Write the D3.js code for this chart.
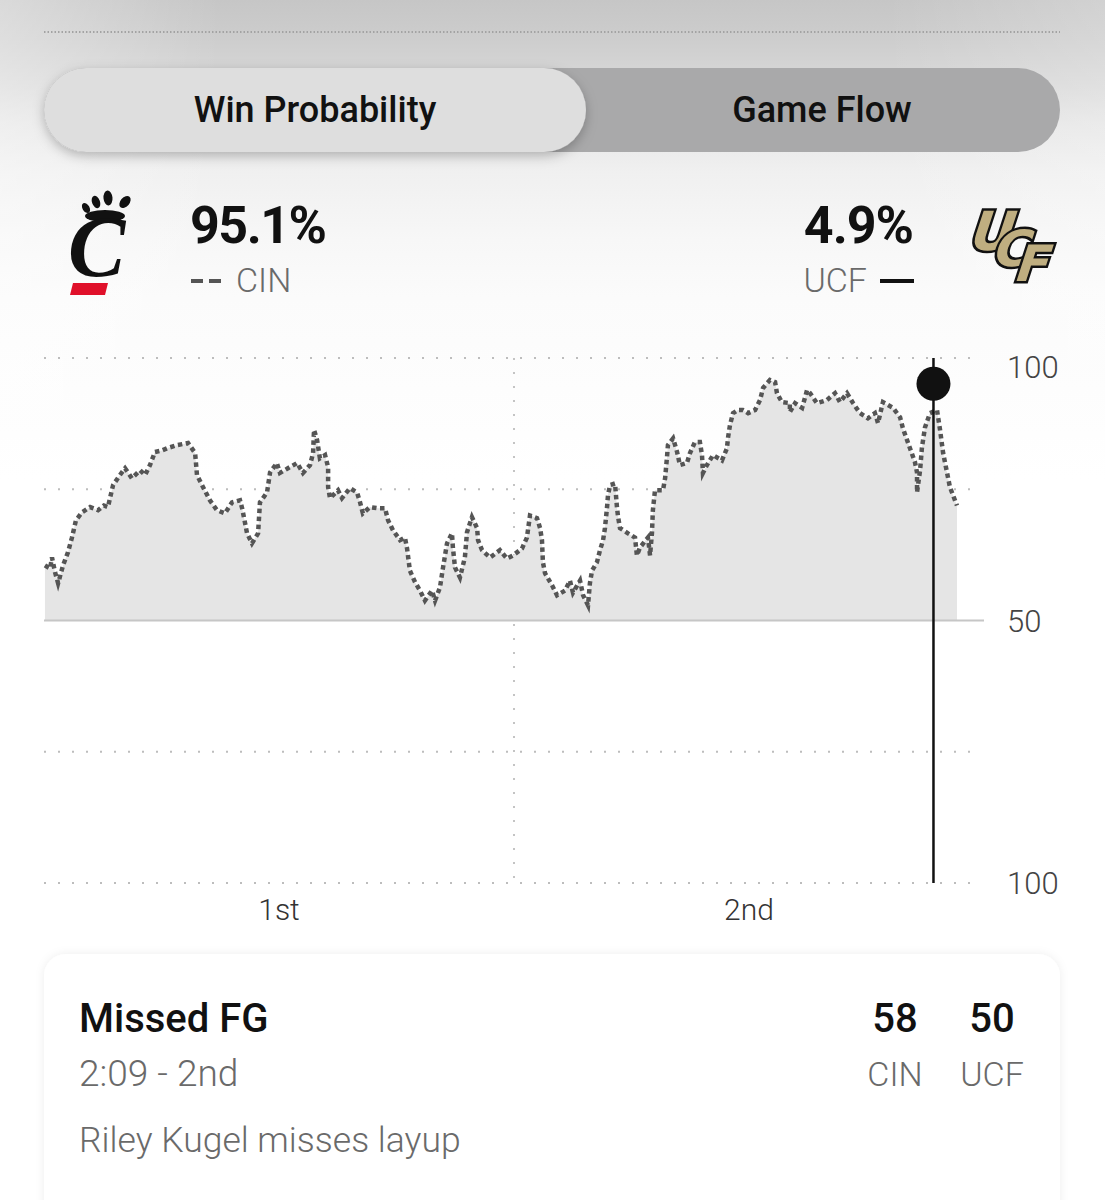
<!DOCTYPE html>
<html>
<head>
<meta charset="utf-8">
<script src="https://cdn.jsdelivr.net/npm/d3@7"></script>
<style>
  html, body { margin: 0; padding: 0; background: #fff; }
  svg { display: block; }
</style>
</head>
<body>
<div id="chart"></div>
<script>
// ---------------- DATA ----------------
const teams = ["CIN", "UCF"];
const winPctNow = [95.1, 4.9];
const tabLabels = ["Win Probability", "Game Flow"];
const periodLabels = ["1st", "2nd"];
const periodMid = [10, 30];            // game minute at centre of each half
const yTickValues = [100, 50, 0];      // CIN win % positions
const yTickLabels = ["100", "50", "100"];
const gridValues = [100, 75, 25, 0];

// game minute elapsed (0-40) and CIN win probability (%)
const gameMinutes = [
  0.04, 0.26, 0.34, 0.47, 0.60, 0.81, 1.02, 1.19, 1.36, 1.62, 1.96, 2.30, 2.55, 2.72, 2.94,
  3.23, 3.45, 3.74, 4.09, 4.30, 4.51, 4.72, 5.02, 5.23, 5.66, 6.13, 6.43, 6.51, 6.77, 7.06,
  7.36, 7.70, 8.00, 8.34, 8.43, 8.55, 8.64, 8.85, 9.11, 9.19, 9.49, 9.62, 9.91, 10.04, 10.38,
  10.77, 11.02, 11.32, 11.45, 11.49, 11.62, 11.74, 11.96, 12.09, 12.09, 12.17, 12.51, 12.68, 13.02, 13.32,
  13.45, 13.57, 13.87, 14.17, 14.51, 14.64, 14.85, 15.15, 15.36, 15.45, 15.57, 15.79, 16.00, 16.21, 16.51,
  16.64, 16.85, 16.98, 17.15, 17.36, 17.40, 17.49, 17.70, 17.91, 18.00, 18.21, 18.43, 18.47, 18.64, 18.98,
  19.40, 19.70, 19.96, 20.34, 20.55, 20.68, 20.98, 21.11, 21.19, 21.23, 21.32, 21.62, 21.83, 22.17, 22.38,
  22.51, 22.81, 22.94, 23.15, 23.23, 23.32, 23.53, 23.66, 23.79, 23.87, 23.96, 24.00, 24.09, 24.30, 24.38,
  24.43, 24.51, 24.85, 25.15, 25.23, 25.36, 25.70, 25.79, 25.87, 25.91, 26.00, 26.34, 26.43, 26.51, 26.55,
  26.77, 26.94, 27.06, 27.36, 27.49, 27.70, 27.91, 28.00, 28.04, 28.21, 28.47, 28.85, 29.06, 29.11, 29.19,
  29.32, 29.53, 29.74, 29.96, 30.26, 30.47, 30.60, 30.89, 31.11, 31.19, 31.40, 31.74, 31.74, 31.96, 32.26,
  32.38, 32.47, 32.60, 32.89, 33.32, 33.66, 33.87, 34.17, 34.43, 34.72, 35.06, 35.36, 35.49, 35.70, 36.13,
  36.43, 36.55, 36.85, 37.06, 37.15, 37.15, 37.28, 37.36, 37.49, 37.70, 38.00, 38.13, 38.26, 38.43, 38.55,
  38.85
];
const cinWinPct = [
  60.5, 59.9, 62.0, 59.2, 57.1, 60.5, 63.0, 65.8, 69.1, 70.6, 71.6, 71.0, 71.9, 71.6, 75.8,
  77.7, 79.0, 77.1, 78.6, 77.7, 79.6, 82.1, 82.4, 82.8, 83.4, 83.8, 81.9, 77.7, 75.4, 72.9,
  71.0, 70.4, 72.5, 72.9, 71.4, 68.7, 66.6, 64.7, 66.6, 72.5, 74.4, 78.2, 80.0, 78.1, 79.0,
  80.0, 78.1, 79.6, 81.9, 86.3, 84.4, 80.9, 81.5, 79.2, 75.4, 73.3, 74.8, 73.3, 75.2, 74.4,
  72.5, 70.4, 71.6, 71.4, 71.4, 69.1, 67.2, 65.3, 65.8, 63.7, 59.5, 57.3, 55.7, 53.8, 55.7,
  53.8, 56.3, 60.1, 64.7, 66.6, 63.9, 60.1, 58.2, 62.0, 66.8, 69.7, 67.6, 65.3, 63.4, 62.0,
  63.4, 61.8, 62.4, 63.7, 65.8, 70.0, 69.5, 67.6, 65.3, 61.1, 59.0, 56.7, 54.8, 55.7, 57.6,
  55.3, 57.6, 54.8, 52.9, 57.1, 59.5, 61.1, 63.4, 65.3, 67.6, 71.6, 73.9, 75.8, 76.1, 71.6,
  69.7, 67.6, 66.6, 65.8, 62.4, 63.9, 65.8, 62.4, 66.6, 71.0, 74.8, 74.8, 77.1, 81.1, 83.4,
  84.7, 82.1, 79.6, 80.0, 81.9, 84.0, 84.0, 81.5, 78.1, 79.6, 81.5, 80.5, 82.8, 84.9, 87.2,
  89.5, 90.1, 90.1, 89.5, 90.1, 92.0, 94.3, 95.8, 95.4, 93.3, 91.6, 91.4, 89.7, 91.4, 90.5,
  92.4, 93.9, 93.3, 91.4, 92.0, 93.3, 91.6, 93.3, 91.4, 89.5, 88.5, 89.5, 87.6, 91.6, 90.5,
  88.7, 86.6, 82.8, 80.2, 78.2, 74.4, 78.6, 83.0, 86.8, 89.5, 90.1, 86.3, 81.9, 78.1, 75.4,
  71.9
];

const play = { title: "Missed FG", clock: "2:09", period: 2, periodLabel: "2nd", text: "Riley Kugel misses layup" };
const score = [58, 50];

// ---------------- LAYOUT ----------------
const W = 1105, H = 1200;
const svg = d3.select("#chart").append("svg").attr("width", W).attr("height", H);
const defs = svg.append("defs");

const bg = defs.append("linearGradient").attr("id", "bg").attr("x1", 0).attr("y1", 0).attr("x2", 0).attr("y2", 1);
[[0, "#c6c6c6"], [0.08, "#cdcdcd"], [0.18, "#d9d9d9"], [0.26, "#e6e6e6"], [0.36, "#f0f0f0"], [0.5, "#f7f7f7"], [0.62, "#fbfbfb"], [1, "#ffffff"]]
  .forEach(([o, c]) => bg.append("stop").attr("offset", o).attr("stop-color", c));
const side = defs.append("linearGradient").attr("id", "side").attr("x1", 0).attr("y1", 0).attr("x2", 1).attr("y2", 0);
[[0, "rgba(255,255,255,0.35)"], [0.2, "rgba(255,255,255,0)"], [0.8, "rgba(255,255,255,0)"], [1, "rgba(255,255,255,0.2)"]]
  .forEach(([o, c]) => side.append("stop").attr("offset", o).attr("stop-color", c));

const sh = defs.append("filter").attr("id", "pillShadow").attr("x", "-10%").attr("y", "-30%").attr("width", "130%").attr("height", "170%");
sh.append("feDropShadow").attr("dx", 0).attr("dy", 4).attr("stdDeviation", 6).attr("flood-color", "#000").attr("flood-opacity", 0.25);
const cs = defs.append("filter").attr("id", "cardShadow").attr("x", "-5%").attr("y", "-10%").attr("width", "110%").attr("height", "130%");
cs.append("feDropShadow").attr("dx", 0).attr("dy", 0).attr("stdDeviation", 5).attr("flood-color", "#000").attr("flood-opacity", 0.07);

svg.append("rect").attr("width", W).attr("height", 480).attr("fill", "url(#bg)");
svg.append("rect").attr("width", W).attr("height", 480).attr("fill", "url(#side)");

// top dotted rule
svg.append("line").attr("x1", 44).attr("x2", 1060).attr("y1", 32).attr("y2", 32)
  .attr("stroke", "#a3a3a3").attr("stroke-width", 2).attr("stroke-dasharray", "1.5 2");

// tabs
const font = "Roboto, 'Liberation Sans', sans-serif";
svg.append("rect").attr("x", 44).attr("y", 68).attr("width", 1016).attr("height", 84).attr("rx", 42)
  .attr("fill", "#a9a9aa");
svg.append("rect").attr("x", 44).attr("y", 68).attr("width", 542).attr("height", 84).attr("rx", 42)
  .attr("fill", "#dedede").attr("filter", "url(#pillShadow)");
const tabCx = [315, 822];
svg.selectAll(".tab").data(tabLabels).join("text")
  .attr("x", (d, i) => tabCx[i]).attr("y", 122).attr("text-anchor", "middle")
  .attr("font-family", font).attr("font-weight", 500).attr("font-size", 36).attr("fill", "#111")
  .text(d => d);

// ---------------- HEADER ----------------
const hdr = svg.append("g");
hdr.append("text").attr("x", 190).attr("y", 243).attr("font-family", font).attr("font-weight", 700)
  .attr("font-size", 52).attr("fill", "#111").attr("letter-spacing", -1.5).text(winPctNow[0].toFixed(1) + "%");
hdr.append("text").attr("x", 913).attr("y", 243).attr("text-anchor", "end").attr("font-family", font).attr("font-weight", 700)
  .attr("font-size", 52).attr("fill", "#111").attr("letter-spacing", -1).text(winPctNow[1].toFixed(1) + "%");
// legend swatches
hdr.append("line").attr("x1", 191).attr("x2", 225).attr("y1", 281).attr("y2", 281)
  .attr("stroke", "#555").attr("stroke-width", 4).attr("stroke-dasharray", "12 6");
hdr.append("text").attr("x", 236).attr("y", 292).attr("font-family", font).attr("font-weight", 300)
  .attr("font-size", 34).attr("fill", "#6a6a6a").text(teams[0]);
hdr.append("text").attr("x", 867).attr("y", 292).attr("text-anchor", "end").attr("font-family", font).attr("font-weight", 300)
  .attr("font-size", 34).attr("fill", "#6a6a6a").text(teams[1]);
hdr.append("line").attr("x1", 880).attr("x2", 914).attr("y1", 281).attr("y2", 281)
  .attr("stroke", "#111").attr("stroke-width", 4);

// CIN logo
const cin = svg.append("g");
[[86, 208, 3.5, 5.5, -30], [96, 202, 4, 6.5, -20], [108, 198, 4.5, 7.5, -5], [125, 202, 4.5, 7, 40]].forEach(([cx, cy, rx, ry, r]) => {
  cin.append("ellipse").attr("cx", cx).attr("cy", cy).attr("rx", rx).attr("ry", ry)
    .attr("transform", `rotate(${r},${cx},${cy})`).attr("fill", "#111");
});
cin.append("ellipse").attr("cx", 105).attr("cy", 216).attr("rx", 20).attr("ry", 6).attr("fill", "#111");
cin.append("text").attr("x", 68).attr("y", 276).attr("font-family", "'Liberation Serif', 'DejaVu Serif', serif")
  .attr("font-style", "italic").attr("font-weight", 700).attr("font-size", 86).attr("fill", "#111").text("C");
cin.append("path").attr("d", "M73,283 L108,283 L105,295 L70,295 Z").attr("fill", "#e0102a");

// UCF logo
const ucf = svg.append("g").attr("font-family", "'DejaVu Sans', sans-serif").attr("font-weight", 700)
  .attr("fill", "#bfae80").attr("stroke", "#111").attr("stroke-width", 5).attr("paint-order", "stroke")
  .attr("stroke-linejoin", "miter");
[["U", 966, 250, 54], ["C", 990, 266, 50], ["F", 1012, 281, 50]].forEach(([t, x, y, s]) => {
  ucf.append("text").attr("x", x).attr("y", y).attr("font-size", s)
    .attr("transform", `translate(${x},${y}) skewX(-18) translate(${-x},${-y})`).text(t);
});

// ---------------- CHART ----------------
const x = d3.scaleLinear().domain([0, 40]).range([44, 984]);
const y = d3.scaleLinear().domain([0, 100]).range([883, 358]);
const data = gameMinutes.map((t, i) => ({ t, v: cinWinPct[i] }));
const g = svg.append("g");

// grid
g.selectAll(".grid").data(gridValues).join("line")
  .attr("x1", x(0)).attr("x2", x(39.6)).attr("y1", d => y(d)).attr("y2", d => y(d))
  .attr("stroke", "#bdbdbd").attr("stroke-width", 2).attr("stroke-dasharray", "2 12");
g.append("line").attr("x1", x(20)).attr("x2", x(20)).attr("y1", y(100)).attr("y2", y(0))
  .attr("stroke", "#c4c4c4").attr("stroke-width", 2).attr("stroke-dasharray", "2 12");

// area
const area = d3.area().x(d => x(d.t)).y0(y(50)).y1(d => y(d.v));
g.append("path").datum(data).attr("d", area).attr("fill", "#e5e5e5");

// 50 line
g.append("line").attr("x1", x(0)).attr("x2", x(40)).attr("y1", y(50)).attr("y2", y(50))
  .attr("stroke", "#c6c6c6").attr("stroke-width", 2);

// line
const line = d3.line().x(d => x(d.t)).y(d => y(d.v));
g.append("path").datum(data).attr("d", line).attr("fill", "none")
  .attr("stroke", "#555").attr("stroke-width", 4.5).attr("stroke-dasharray", "4.5 3.5");

// y labels
const yLabelShift = [9, 0, 0];
g.selectAll(".ylab").data(yTickValues).join("text")
  .attr("x", 1007).attr("y", (d, i) => y(d) + yLabelShift[i] + 11).attr("font-family", font).attr("font-weight", 300)
  .attr("font-size", 31).attr("fill", "#444").text((d, i) => yTickLabels[i]);

// period labels
g.selectAll(".plab").data(periodLabels).join("text")
  .attr("x", (d, i) => x(periodMid[i])).attr("y", 920).attr("text-anchor", "middle")
  .attr("font-family", font).attr("font-weight", 300).attr("font-size", 30).attr("fill", "#333").text(d => d);

// marker
const [mm, ms] = play.clock.split(":").map(Number);
const markerT = (play.period - 1) * 20 + (20 - (mm + ms / 60));
g.append("line").attr("x1", x(markerT)).attr("x2", x(markerT)).attr("y1", y(100)).attr("y2", y(0))
  .attr("stroke", "#111").attr("stroke-width", 2.5);
g.append("circle").attr("cx", x(markerT)).attr("cy", y(winPctNow[0])).attr("r", 17).attr("fill", "#111");

// ---------------- CARD ----------------
svg.append("rect").attr("x", 44).attr("y", 954).attr("width", 1016).attr("height", 300).attr("rx", 22)
  .attr("fill", "#fff").attr("filter", "url(#cardShadow)");
svg.append("text").attr("x", 79).attr("y", 1032).attr("font-family", font).attr("font-weight", 500)
  .attr("font-size", 40).attr("fill", "#111").text(play.title);
svg.append("text").attr("x", 79).attr("y", 1086).attr("font-family", font).attr("font-weight", 300)
  .attr("font-size", 37).attr("fill", "#6a6a6a").text(`${play.clock} - ${play.periodLabel}`);
svg.append("text").attr("x", 79).attr("y", 1152).attr("font-family", font).attr("font-weight", 300)
  .attr("font-size", 35.5).attr("fill", "#6a6a6a").text(play.text);
const scoreCx = [895, 992];
svg.selectAll(".score").data(score).join("text")
  .attr("x", (d, i) => scoreCx[i]).attr("y", 1032).attr("text-anchor", "middle")
  .attr("font-family", font).attr("font-weight", 500).attr("font-size", 40).attr("fill", "#111").text(d => d);
svg.selectAll(".steam").data(teams).join("text")
  .attr("x", (d, i) => scoreCx[i]).attr("y", 1086).attr("text-anchor", "middle")
  .attr("font-family", font).attr("font-weight", 300).attr("font-size", 34).attr("fill", "#6a6a6a").text(d => d);
</script>
</body>
</html>
